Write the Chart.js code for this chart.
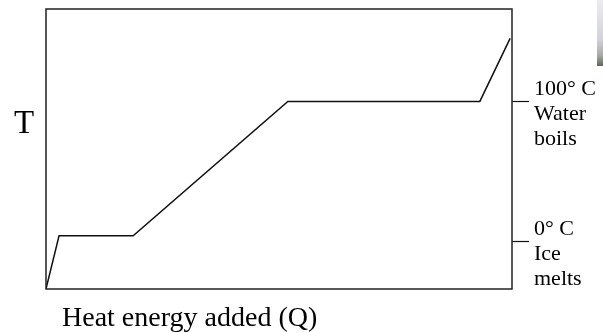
<!DOCTYPE html>
<html>
<head>
<meta charset="utf-8">
<script src="https://cdn.jsdelivr.net/npm/chart.js@4/dist/chart.umd.min.js"></script>
<style>
  html, body { margin: 0; padding: 0; background: #fff; }
  #wrap { width: 603px; height: 333px; }
</style>
</head>
<body>
<div id="wrap"><canvas id="grafico" width="603" height="333"></canvas></div>
<script>
// data (Q in arbitrary units, T in °C)
const heatQ = [0, 2.8, 18.7, 51.9, 93.1, 99.6];
const tempT = [-34, 4, 4, 100, 100, 145];

// reference marks on the right side
const markerTemps = [100, 0];
const markerLabels = [["100° C", "Water", "boils"], ["0° C", "Ice", "melts"]];

const yLabel = "T";
const xLabel = "Heat energy added (Q)";

const serif = "'Liberation Serif', 'Times New Roman', serif";

const points = heatQ.map((q, i) => ({ x: q, y: tempT[i] }));

// box, T and x title
const extras = {
    id: 'extras',
    beforeDraw(chart) {
        const c = chart.ctx;
        // small photo fragment in the top right corner
        const g = c.createLinearGradient(0, 0, 0, 66);
        g.addColorStop(0, '#ececf0');
        g.addColorStop(0.6, '#d2d2da');
        g.addColorStop(0.85, '#a4a8a0');
        g.addColorStop(1, '#5e6656');
        c.save();
        c.fillStyle = g;
        c.fillRect(597, 0, 6, 66);
        c.restore();
    },
    afterDraw(chart) {
        const c = chart.ctx;
        const a = chart.chartArea;
        c.save();
        c.strokeStyle = '#222';
        c.lineWidth = 1.5;
        c.strokeRect(a.left, a.top, a.right - a.left, a.bottom - a.top);
        c.fillStyle = '#000';
        c.textBaseline = 'alphabetic';
        c.font = '33px ' + serif;
        c.textAlign = 'center';
        c.fillText(yLabel, 24, 133);
        c.font = '28px ' + serif;
        c.textAlign = 'left';
        c.fillText(xLabel, 62, 326);
        c.restore();
    }
};

new Chart(document.getElementById('grafico'), {
    type: 'line',
    data: {
        datasets: [{
            data: points,
            borderColor: '#111',
            borderWidth: 1.5,
            pointRadius: 0,
            tension: 0,
            fill: false
        }]
    },
    options: {
        responsive: false,
        animation: false,
        layout: { padding: { left: 46, top: 9, bottom: 44, right: 0 } },
        plugins: { legend: { display: false }, tooltip: { enabled: false } },
        scales: {
            x: { type: 'linear', min: 0, max: 100, display: false },
            y: { min: -34, max: 166, display: false },
            y2: {
                position: 'right',
                min: -34,
                max: 166,
                afterFit(scale) {
                    scale.width = 91;
                    scale.paddingTop = 0;
                    scale.paddingBottom = 0;
                },
                afterBuildTicks(scale) {
                    scale.ticks = markerTemps.map(v => ({ value: v }));
                },
                border: { display: false },
                grid: {
                    drawOnChartArea: false,
                    drawTicks: true,
                    tickLength: 17,
                    tickWidth: 1.2,
                    tickColor: '#111'
                },
                ticks: {
                    padding: 5,
                    labelOffset: 13,
                    color: '#000',
                    font: { family: serif, size: 22, lineHeight: 1.15 },
                    callback(value) {
                        const i = markerTemps.indexOf(value);
                        return i >= 0 ? markerLabels[i] : '';
                    }
                }
            }
        }
    },
    plugins: [extras]
});
</script>
</body>
</html>
